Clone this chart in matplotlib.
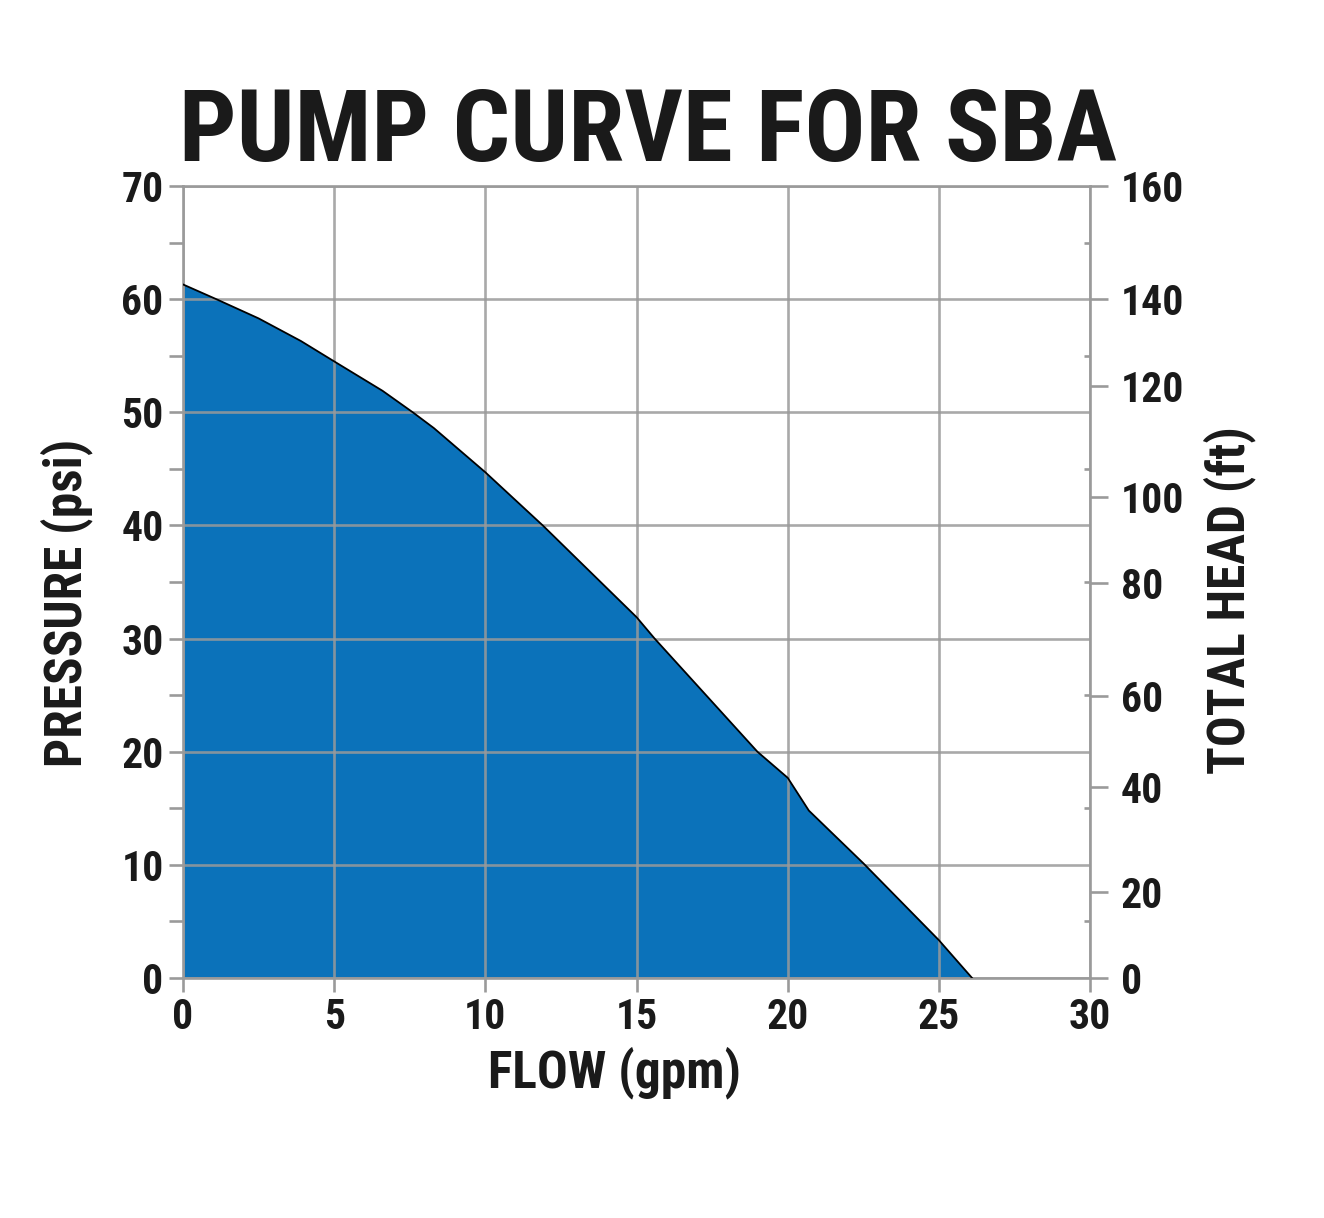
import matplotlib.pyplot as plt
from matplotlib.ticker import MultipleLocator

plt.rcParams['font.family'] = ['Roboto Condensed', 'Open Sans Condensed', 'DejaVu Sans']
plt.rcParams['font.stretch'] = 'condensed'
plt.rcParams['font.weight'] = 'bold'
plt.rcParams['axes.labelweight'] = 'bold'

# curve
flow = [0, 1.1, 2.5, 3.9, 5, 6.6, 7.6, 8.3, 10, 11.9, 15, 15.6, 19, 20, 20.7, 22.5, 25, 26.1]
pressure = [61.3, 60.0, 58.3, 56.3, 54.5, 51.9, 50.0, 48.6, 44.7, 40.0, 31.9, 30.0, 20.0, 17.7, 14.8, 10.15, 3.35, 0]

# right axis labels (ft) and where they sit on the psi scale
head_labels = ['0', '20', '40', '60', '80', '100', '120', '140', '160']
head_pos_psi = [0, 7.6, 16.9, 24.9, 34.95, 42.5, 52.3, 60, 70]

grey = '#9a9a9a'
blue = '#0b72ba'
txt = '#1a1a1a'

fig = plt.figure(figsize=(13.24, 12.18), dpi=100)
ax = fig.add_axes([0.1382, 0.197, 0.6851, 0.6503])

ax.fill_between(flow, pressure, 0, color=blue, zorder=1, linewidth=0)
ax.plot(flow, pressure, color='black', linewidth=1.3, zorder=3)

ax.set_xlim(0, 30)
ax.set_ylim(0, 70)
ax.xaxis.set_major_locator(MultipleLocator(5))
ax.yaxis.set_major_locator(MultipleLocator(10))
ax.yaxis.set_minor_locator(MultipleLocator(5))
ax.grid(True, which='major', color=grey, linewidth=1.9, alpha=0.85, zorder=2)
ax.set_axisbelow(False)

for s in ax.spines.values():
    s.set_color(grey)
    s.set_linewidth(1.9)

ax.tick_params(axis='both', which='both', color=grey, width=1.9, length=10,
               labelsize=30, labelcolor=txt)
ax.tick_params(axis='x', pad=4)
ax.tick_params(axis='y', pad=4)

ax.set_xlabel('FLOW (gpm)', fontsize=37, color=txt)
ax.xaxis.set_label_coords(0.476, -0.086)
ax.set_ylabel('PRESSURE (psi)', fontsize=37, color=txt)
ax.yaxis.set_label_coords(-0.099, 0.4735)

ax2 = ax.twinx()
ax2.set_ylim(0, 70)
ax2.set_yticks(head_pos_psi)
ax2.set_yticklabels(head_labels)
ax2.set_yticks(range(5, 70, 10), minor=True)
ax2.tick_params(axis='y', which='major', color=grey, width=1.9, length=13,
                labelsize=30, labelcolor=txt, pad=9)
ax2.tick_params(axis='y', which='minor', color=grey, width=1.9, length=4,
                direction='in')
for s in ax2.spines.values():
    s.set_visible(False)
ax2.set_ylabel('TOTAL HEAD (ft)', fontsize=37, color=txt)
ax2.yaxis.set_label_coords(1.1245, 0.477)

fig.text(0.4894, 0.890, 'PUMP CURVE FOR SBA', fontsize=73, color=txt,
         ha='center', va='center', fontweight='bold')

fig.savefig('out.png', dpi=100, facecolor='white')
